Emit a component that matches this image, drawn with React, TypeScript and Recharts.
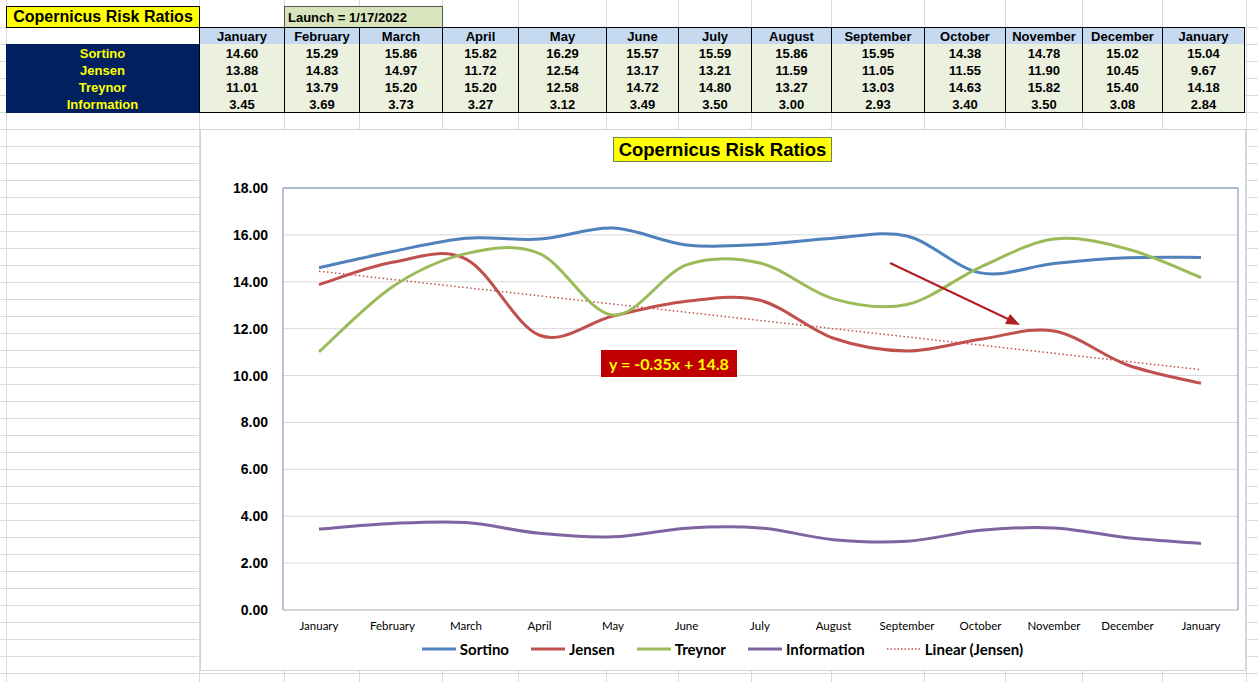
import React from 'react';
import {
  LineChart,
  Line,
  XAxis,
  YAxis,
  CartesianGrid,
  Legend,
  ReferenceLine,
} from 'recharts';

const months = [
  'January', 'February', 'March', 'April', 'May', 'June', 'July',
  'August', 'September', 'October', 'November', 'December', 'January',
];
const sortino = [14.6, 15.29, 15.86, 15.82, 16.29, 15.57, 15.59, 15.86, 15.95, 14.38, 14.78, 15.02, 15.04];
const jensen = [13.88, 14.83, 14.97, 11.72, 12.54, 13.17, 13.21, 11.59, 11.05, 11.55, 11.9, 10.45, 9.67];
const treynor = [11.01, 13.79, 15.2, 15.2, 12.58, 14.72, 14.8, 13.27, 13.03, 14.63, 15.82, 15.4, 14.18];
const information = [3.45, 3.69, 3.73, 3.27, 3.12, 3.49, 3.5, 3.0, 2.93, 3.4, 3.5, 3.08, 2.84];
// trendline (Linear (Jensen))
const jensenTrend = [14.45, 14.1, 13.75, 13.4, 13.05, 12.7, 12.35, 12.0, 11.65, 11.3, 10.95, 10.6, 10.25];
const yTicks = [0, 2, 4, 6, 8, 10, 12, 14, 16, 18];

const seriesNames = ['Sortino', 'Jensen', 'Treynor', 'Information'];
const seriesValues = [sortino, jensen, treynor, information];
const seriesColors = ['#4f81bd', '#c0504d', '#9bbb59', '#8064a2'];

const data = months.map((month, i) => ({
  month,
  Sortino: sortino[i],
  Jensen: jensen[i],
  Treynor: treynor[i],
  Information: information[i],
  trend: jensenTrend[i],
}));

// sheet layout
const colEdges = [199, 284, 359, 442, 518, 606, 678, 751, 831, 924, 1005, 1082, 1162, 1244];
const gridCols = [6, 199, 284, 359, 442, 518, 606, 678, 751, 831, 924, 1005, 1082, 1162, 1246];

const NAVY = '#002060';
const YELLOW = '#ffff00';
const sheetFont = '"Liberation Sans", Arial, sans-serif';
const chartFont = 'Lato, "Open Sans", sans-serif';

// Excel-like smoothed line (Catmull-Rom through the points)
const smoothCurve = (context: any) => {
  let pts: number[][] = [];
  return {
    areaStart() {},
    areaEnd() {},
    lineStart() {
      pts = [];
    },
    lineEnd() {
      const n = pts.length;
      if (!n) return;
      context.moveTo(pts[0][0], pts[0][1]);
      for (let i = 0; i < n - 1; i++) {
        const p0 = pts[i - 1] || pts[i];
        const p1 = pts[i];
        const p2 = pts[i + 1];
        const p3 = pts[i + 2] || p2;
        context.bezierCurveTo(
          p1[0] + (p2[0] - p0[0]) / 6,
          p1[1] + (p2[1] - p0[1]) / 6,
          p2[0] - (p3[0] - p1[0]) / 6,
          p2[1] - (p3[1] - p1[1]) / 6,
          p2[0],
          p2[1],
        );
      }
    },
    point(x: number, y: number) {
      pts.push([+x, +y]);
    },
  };
};

const SheetGrid = () => {
  const rows: number[] = [];
  for (let y = 27; y < 682; y += 17) rows.push(y);
  return (
    <svg width={1258} height={682} style={{ position: 'absolute', left: 0, top: 0 }}>
      {gridCols.map((x) => (
        <line key={'c' + x} x1={x + 0.5} x2={x + 0.5} y1={0} y2={682} stroke="#dadada" />
      ))}
      {rows.map((y) => (
        <line key={'r' + y} x1={0} x2={1258} y1={y + 0.5} y2={y + 0.5} stroke="#dadada" />
      ))}
    </svg>
  );
};

const cellBase: React.CSSProperties = {
  position: 'absolute',
  boxSizing: 'border-box',
  height: 18,
  lineHeight: '17px',
  textAlign: 'center',
  fontWeight: 700,
  fontSize: 13,
  color: '#000',
};

const SheetTable = () => (
  <div style={{ position: 'absolute', left: 0, top: 0, fontFamily: sheetFont }}>
    <div
      style={{
        ...cellBase,
        left: 6,
        top: 6,
        width: 194,
        height: 22,
        lineHeight: '20px',
        fontSize: 16,
        background: YELLOW,
        border: '1px solid #000',
      }}
    >
      Copernicus Risk Ratios
    </div>
    <div
      style={{
        ...cellBase,
        left: 284,
        top: 6,
        width: 159,
        height: 22,
        lineHeight: '21px',
        textAlign: 'left',
        paddingLeft: 3,
        background: '#d8e4bc',
        border: '1px solid #555',
      }}
    >
      Launch = 1/17/2022
    </div>
    {months.map((m, i) => (
      <div
        key={'h' + i}
        style={{
          ...cellBase,
          left: colEdges[i],
          top: 27,
          width: colEdges[i + 1] - colEdges[i] + 1,
          background: '#c5d9f1',
          border: '1px solid #000',
        }}
      >
        {m}
      </div>
    ))}
    <div
      style={{
        position: 'absolute',
        left: 6,
        top: 44,
        width: 193,
        height: 69,
        background: NAVY,
      }}
    />
    {seriesNames.map((name, r) => (
      <React.Fragment key={name}>
        <div
          style={{
            ...cellBase,
            left: 6,
            top: 44 + r * 17,
            width: 193,
            height: 17,
            lineHeight: '19px',
            color: YELLOW,
          }}
        >
          {name}
        </div>
        {seriesValues[r].map((v, i) => (
          <div
            key={name + i}
            style={{
              ...cellBase,
              left: colEdges[i],
              top: 44 + r * 17,
              width: colEdges[i + 1] - colEdges[i] + 1,
              height: r === 3 ? 18 : 17,
              lineHeight: '19px',
              background: '#ebf1de',
              borderLeft: '1px solid #000',
              borderRight: '1px solid #000',
              borderBottom: r === 3 ? '1px solid #000' : 'none',
            }}
          >
            {v.toFixed(2)}
          </div>
        ))}
      </React.Fragment>
    ))}
  </div>
);

const LegendBox = () => {
  const items = [
    ...seriesNames.map((n, i) => ({ name: n, color: seriesColors[i], dotted: false })),
    { name: 'Linear (Jensen)', color: '#c0504d', dotted: true },
  ];
  return (
    <div
      style={{
        display: 'flex',
        justifyContent: 'center',
        alignItems: 'center',
        gap: 22,
        height: 24,
        paddingLeft: 6,
        fontFamily: chartFont,
        fontWeight: 700,
        fontSize: 15,
        color: '#000',
      }}
    >
      {items.map((it) => (
        <div key={it.name} style={{ display: 'flex', alignItems: 'center', gap: 4 }}>
          <svg width={34} height={6}>
            <line
              x1={0}
              x2={34}
              y1={3}
              y2={3}
              stroke={it.color}
              strokeWidth={it.dotted ? 1.5 : 3}
              strokeDasharray={it.dotted ? '1.5 2' : undefined}
            />
          </svg>
          <span>{it.name}</span>
        </div>
      ))}
    </div>
  );
};

const RiskChart = () => (
  <div style={{ position: 'absolute', left: 200, top: 129, width: 1046, height: 542, background: '#fff' }}>
    <div
      style={{
        position: 'absolute',
        inset: 0,
        border: '1px solid #d4d4d4',
        pointerEvents: 'none',
      }}
    />
    <div
      style={{
        position: 'absolute',
        left: 413,
        top: 8,
        width: 219,
        height: 25,
        boxSizing: 'border-box',
        background: YELLOW,
        border: '1px solid #6b8559',
        fontFamily: sheetFont,
        fontWeight: 700,
        fontSize: 18.5,
        lineHeight: '23px',
        textAlign: 'center',
        color: '#000',
      }}
    >
      Copernicus Risk Ratios
    </div>
    <LineChart width={1046} height={542} data={data} margin={{ top: 59, right: 7, left: 0, bottom: 10 }}>
      <CartesianGrid vertical={false} stroke="#d9d9d9" />
      <XAxis
        dataKey="month"
        interval={0}
        padding={{ left: 36, right: 37 }}
        height={27}
        tickSize={0}
        tickMargin={12}
        axisLine={{ stroke: '#bfbfbf' }}
        tick={{ fontFamily: chartFont, fontSize: 11.5, fill: '#000' }}
      />
      <YAxis
        domain={[0, 18]}
        ticks={yTicks}
        interval={0}
        width={83}
        tickSize={0}
        tickMargin={15}
        axisLine={{ stroke: '#6f8cb0' }}
        tickFormatter={(v: number) => v.toFixed(2)}
        tick={{ fontFamily: sheetFont, fontWeight: 700, fontSize: 14, fill: '#000' }}
      />
      <YAxis
        yAxisId="frame"
        orientation="right"
        domain={[0, 18]}
        width={1}
        tick={false}
        tickLine={false}
        axisLine={{ stroke: '#6f8cb0' }}
      />
      <ReferenceLine y={18} stroke="#6f8cb0" />
      <Line
        dataKey="trend"
        name="Linear (Jensen)"
        type="linear"
        stroke="#c0504d"
        strokeWidth={1.5}
        strokeDasharray="1.5 2.5"
        dot={false}
        activeDot={false}
        isAnimationActive={false}
      />
      {seriesNames.map((n, i) => (
        <Line
          key={n}
          dataKey={n}
          type={smoothCurve as any}
          stroke={seriesColors[i]}
          strokeWidth={3}
          dot={false}
          activeDot={false}
          isAnimationActive={false}
        />
      ))}
      <Legend verticalAlign="bottom" content={() => <LegendBox />} />
    </LineChart>
    <div
      style={{
        position: 'absolute',
        left: 401,
        top: 221,
        width: 136,
        height: 27,
        background: '#c00000',
        color: YELLOW,
        fontFamily: chartFont,
        fontWeight: 700,
        fontSize: 16,
        lineHeight: '27px',
        textAlign: 'center',
      }}
    >
      y = -0.35x + 14.8
    </div>
    <svg
      width={1046}
      height={542}
      style={{ position: 'absolute', left: 0, top: 0, pointerEvents: 'none' }}
    >
      <line x1={690} y1={134} x2={808} y2={190} stroke="#b01e23" strokeWidth={2} />
      <polygon points="820,196 805,195 810,185" fill="#b01e23" />
    </svg>
  </div>
);

export default function App() {
  return (
    <div
      style={{
        position: 'absolute',
        left: 0,
        top: 0,
        width: 1258,
        height: 682,
        overflow: 'hidden',
        background: '#fff',
      }}
    >
      <SheetGrid />
      <SheetTable />
      <RiskChart />
    </div>
  );
}
